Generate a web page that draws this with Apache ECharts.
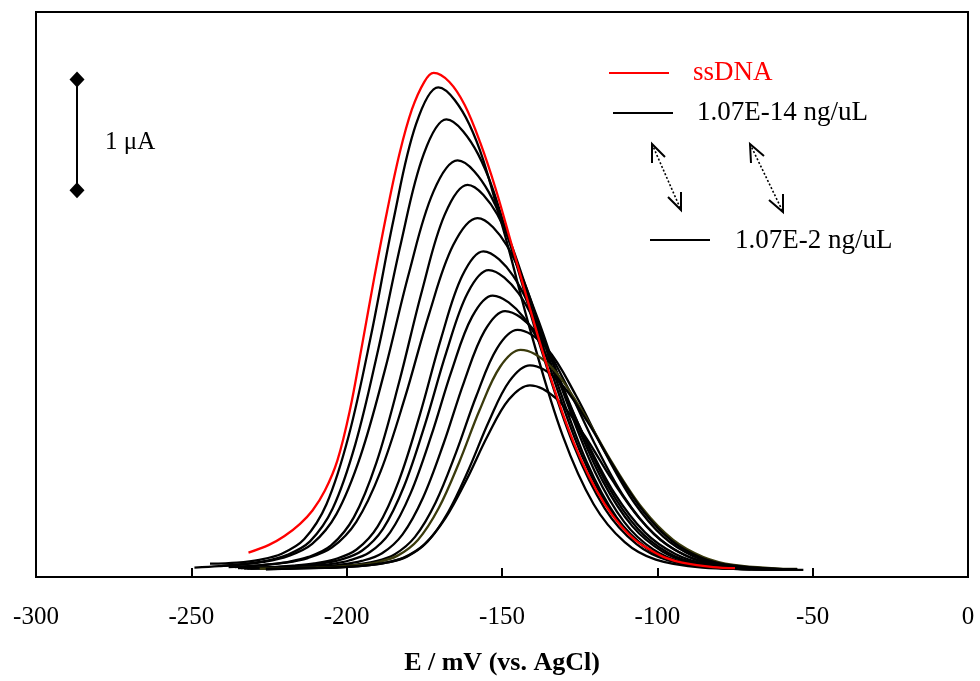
<!DOCTYPE html>
<html>
<head>
<meta charset="utf-8">
<script src="https://cdn.jsdelivr.net/npm/echarts@6/dist/echarts.min.js"></script>
<style>
html,body{margin:0;padding:0;background:#fff;}
#chart{width:980px;height:681px;}
</style>
</head>
<body>
<div id="chart"></div>
<script>
// x tick labels (mV)
const xTicks = [-300, -250, -200, -150, -100, -50, 0];

// DPV curves: [E (mV), I (uA)]
const ssDNA = [[-231.6,0.22],[-225,0.29],[-220,0.37],[-215,0.48],[-211,0.6],[-207,0.78],[-203,1.05],[-199,1.5],[-195,2.1],[-191,2.72],[-187,3.3],[-183,3.82],[-179,4.22],[-175,4.47],[-172,4.55],[-167,4.47],[-162,4.26],[-157,3.92],[-152,3.50],[-147,3.01],[-142,2.52],[-137,2.04],[-132,1.60],[-127,1.22],[-122,0.91],[-117,0.66],[-112,0.47],[-107,0.33],[-102,0.24],[-97,0.17],[-92,0.13],[-82,0.09],[-75,0.08]];
const c1 = [[-244,0.12],[-235.3,0.13],[-228.1,0.155],[-220.9,0.21],[-213.7,0.34],[-206.5,0.657],[-199.3,1.279],[-192.1,2.188],[-184.9,3.228],[-177.7,4.085],[-170.5,4.42],[-160.5,4.085],[-150.5,3.228],[-140.5,2.188],[-130.5,1.279],[-120.5,0.657],[-110.5,0.314],[-100.5,0.156],[-85.5,0.084],[-75,0.075]];
const c2 = [[-249,0.085],[-241.1,0.098],[-233.8,0.115],[-226.5,0.143],[-219.1,0.2],[-211.8,0.322],[-204.5,0.618],[-197.2,1.199],[-189.9,2.047],[-182.5,3.018],[-175.2,3.817],[-167.9,4.13],[-157.7,3.817],[-147.5,3.018],[-137.3,2.047],[-127.1,1.199],[-116.9,0.618],[-106.7,0.297],[-96.5,0.15],[-81.2,0.083],[-53,0.065]];
const c3 = [[-240,0.1],[-234.5,0.111],[-226.7,0.136],[-218.9,0.188],[-211.1,0.299],[-203.3,0.568],[-195.5,1.096],[-187.7,1.867],[-179.9,2.749],[-172.1,3.476],[-164.3,3.76],[-154.3,3.476],[-144.3,2.749],[-134.3,1.867],[-124.3,1.096],[-114.3,0.568],[-104.3,0.277],[-94.3,0.143],[-79.3,0.081],[-60,0.068]];
const c4 = [[-238,0.09],[-234.3,0.094],[-227,0.108],[-219.7,0.132],[-212.3,0.181],[-205,0.285],[-197.7,0.538],[-190.4,1.035],[-183.1,1.76],[-175.7,2.589],[-168.4,3.273],[-161.1,3.54],[-151.5,3.273],[-141.9,2.589],[-132.3,1.76],[-122.7,1.035],[-113.1,0.538],[-103.5,0.264],[-93.9,0.139],[-79.5,0.081],[-70,0.07]];
const c5 = [[-236,0.09],[-228.1,0.105],[-220.3,0.127],[-212.5,0.171],[-204.7,0.267],[-196.9,0.498],[-189.1,0.951],[-181.3,1.614],[-173.5,2.371],[-165.7,2.996],[-157.9,3.24],[-148.5,2.996],[-139,2.371],[-129.6,1.614],[-120.1,0.951],[-110.7,0.498],[-101.3,0.248],[-91.8,0.133],[-77.7,0.08],[-65,0.068]];
const c6 = [[-235,0.08],[-224,0.09],[-217.2,0.102],[-210.4,0.122],[-203.6,0.162],[-196.8,0.248],[-190,0.457],[-183.2,0.868],[-176.4,1.468],[-169.6,2.154],[-162.8,2.719],[-156,2.94],[-146.4,2.719],[-136.8,2.154],[-127.2,1.468],[-117.6,0.868],[-108,0.457],[-98.4,0.231],[-88.8,0.127],[-74.4,0.079],[-60,0.066]];
const c7 = [[-234,0.08],[-222.3,0.09],[-215.5,0.1],[-208.7,0.119],[-201.9,0.156],[-195.1,0.237],[-188.3,0.435],[-181.5,0.821],[-174.7,1.385],[-167.9,2.03],[-161.1,2.562],[-154.3,2.77],[-144.7,2.562],[-135.1,2.03],[-125.5,1.385],[-115.9,0.821],[-106.3,0.435],[-96.7,0.221],[-87.1,0.123],[-72.7,0.078],[-60,0.066]];
const c8 = [[-233,0.075],[-219,0.087],[-212.4,0.097],[-205.8,0.114],[-199.2,0.149],[-192.6,0.223],[-186,0.403],[-179.4,0.757],[-172.8,1.273],[-166.2,1.863],[-159.6,2.35],[-153,2.54],[-143.2,2.35],[-133.4,1.863],[-123.6,1.273],[-113.8,0.757],[-104,0.403],[-94.2,0.208],[-84.4,0.119],[-69.7,0.078],[-55,0.065]];
const c9 = [[-232,0.075],[-215,0.086],[-208.4,0.096],[-201.8,0.112],[-195.2,0.145],[-188.6,0.214],[-182,0.385],[-175.4,0.718],[-168.8,1.205],[-162.2,1.762],[-155.6,2.221],[-149,2.40],[-139.4,2.221],[-129.8,1.762],[-120.2,1.205],[-110.6,0.718],[-101,0.385],[-91.4,0.2],[-81.8,0.116],[-67.4,0.077],[-55,0.066]];
const c10 = [[-231,0.075],[-211,0.085],[-204.4,0.094],[-197.8,0.109],[-191.2,0.139],[-184.6,0.204],[-178,0.362],[-171.4,0.67],[-164.8,1.122],[-158.2,1.638],[-151.6,2.064],[-145,2.23],[-135.6,2.064],[-126.2,1.638],[-116.8,1.122],[-107.4,0.67],[-98,0.362],[-88.6,0.191],[-79.2,0.113],[-65.1,0.077],[-55,0.066]];
const c11 = [[-228,0.075],[-210,0.084],[-203.4,0.092],[-196.8,0.106],[-190.2,0.133],[-183.6,0.193],[-177,0.337],[-170.4,0.62],[-163.8,1.034],[-157.2,1.507],[-150.6,1.898],[-144,2.05],[-134.2,1.898],[-124.4,1.507],[-114.6,1.034],[-104.8,0.62],[-95,0.337],[-85.2,0.181],[-75.4,0.109],[-60.7,0.076],[-55,0.072]];
const c12 = [[-226,0.072],[-207,0.083],[-200.4,0.09],[-193.8,0.103],[-187.2,0.129],[-180.6,0.184],[-174,0.318],[-167.4,0.582],[-160.8,0.966],[-154.2,1.406],[-147.6,1.768],[-141,1.91],[-131.8,1.768],[-122.6,1.406],[-113.4,0.966],[-104.2,0.582],[-95,0.318],[-85.8,0.173],[-76.6,0.106],[-62.8,0.076],[-55,0.07]];
const c13 = [[-226,0.07],[-209,0.082],[-202.2,0.088],[-195.4,0.1],[-188.6,0.123],[-181.8,0.173],[-175,0.294],[-168.2,0.531],[-161.4,0.878],[-154.6,1.275],[-147.8,1.602],[-141,1.73],[-132.2,1.602],[-123.4,1.275],[-114.6,0.878],[-105.8,0.531],[-97,0.294],[-88.2,0.163],[-79.4,0.103],[-66.2,0.075],[-55,0.068]];

// scale bar (1 uA), in data units
const scaleBar = [[-286.8, 3.49], [-286.8, 4.49]];

const blackCurves = [c1, c2, c3, c4, c5, c6, c7, c8, c9, c10, c11, c12, c13];
const curveColors = ['#000','#000','#000','#000','#000','#000','#000','#000','#000','#000','#3a3a0c','#000','#000'];

const FONT = '"Liberation Serif","Times New Roman",serif';

const series = [];
blackCurves.forEach((d, i) => {
  series.push({
    type: 'line', data: d, smooth: 0.35, showSymbol: false, symbol: 'none',
    lineStyle: { color: curveColors[i], width: 2.3 }, z: 2, silent: true
  });
});
series.push({
  type: 'line', data: ssDNA, smooth: 0.35, showSymbol: false, symbol: 'none',
  lineStyle: { color: '#ff0000', width: 2.3 }, z: 3, silent: true
});
series.push({
  type: 'line', data: scaleBar, symbol: 'diamond', symbolSize: [15, 16], showSymbol: true,
  itemStyle: { color: '#000' }, lineStyle: { color: '#000', width: 2 }, z: 4, silent: true
});

const chart = echarts.init(document.getElementById('chart'), null, { renderer: 'canvas' });

function arrowGroup(x1, y1, x2, y2, a1, a2, b1, b2) {
  return [
    { type: 'line', shape: { x1: x1, y1: y1, x2: x2, y2: y2 }, style: { stroke: '#000', lineWidth: 1.6, lineDash: [2, 2] } },
    { type: 'polyline', shape: { points: [a1, [x1, y1], a2] }, style: { stroke: '#000', lineWidth: 2, fill: null } },
    { type: 'polyline', shape: { points: [b1, [x2, y2], b2] }, style: { stroke: '#000', lineWidth: 2, fill: null } }
  ];
}

const graphics = [
  { type: 'text', x: 105, y: 142, style: { text: '1 \u03bcA', font: '25px ' + FONT, fill: '#000', textVerticalAlign: 'middle' } },
  { type: 'line', shape: { x1: 609, y1: 73, x2: 669, y2: 73 }, style: { stroke: '#ff0000', lineWidth: 2 } },
  { type: 'text', x: 693, y: 73, style: { text: 'ssDNA', font: '27px ' + FONT, fill: '#ff0000', textVerticalAlign: 'middle' } },
  { type: 'line', shape: { x1: 613, y1: 113, x2: 673, y2: 113 }, style: { stroke: '#000', lineWidth: 2 } },
  { type: 'text', x: 697, y: 113, style: { text: '1.07E-14 ng/uL', font: '27px ' + FONT, fill: '#000', textVerticalAlign: 'middle' } },
  { type: 'line', shape: { x1: 650, y1: 240, x2: 710, y2: 240 }, style: { stroke: '#000', lineWidth: 2 } },
  { type: 'text', x: 735, y: 241, style: { text: '1.07E-2 ng/uL', font: '27px ' + FONT, fill: '#000', textVerticalAlign: 'middle' } }
].concat(
  arrowGroup(652, 144, 681, 210, [652, 163], [665, 157], [681, 192], [668, 197]),
  arrowGroup(750, 144, 783, 212, [751, 163], [764, 156], [783, 194], [769, 200])
);

chart.setOption({
  animation: false,
  backgroundColor: '#fff',
  grid: { left: 36, right: 12, top: 12, bottom: 102, show: true, borderColor: '#000', borderWidth: 2, backgroundColor: 'transparent' },
  xAxis: {
    type: 'value', min: xTicks[0], max: xTicks[xTicks.length - 1], interval: 50,
    axisLine: { show: true, onZero: false, lineStyle: { color: '#000', width: 2 } },
    axisTick: { show: true, inside: true, length: 9, lineStyle: { color: '#000', width: 2 } },
    axisLabel: { color: '#000', fontFamily: FONT, fontSize: 25, margin: 28 },
    splitLine: { show: false },
    name: 'E / mV (vs. AgCl)', nameLocation: 'middle', nameGap: 73,
    nameTextStyle: { color: '#000', fontFamily: FONT, fontSize: 26, fontWeight: 'bold' }
  },
  yAxis: {
    type: 'value', min: 0, max: 5.1,
    axisLine: { show: true, lineStyle: { color: '#000', width: 2 } },
    axisTick: { show: false }, axisLabel: { show: false }, splitLine: { show: false }
  },
  series: series,
  graphic: graphics
});
</script>
</body>
</html>
